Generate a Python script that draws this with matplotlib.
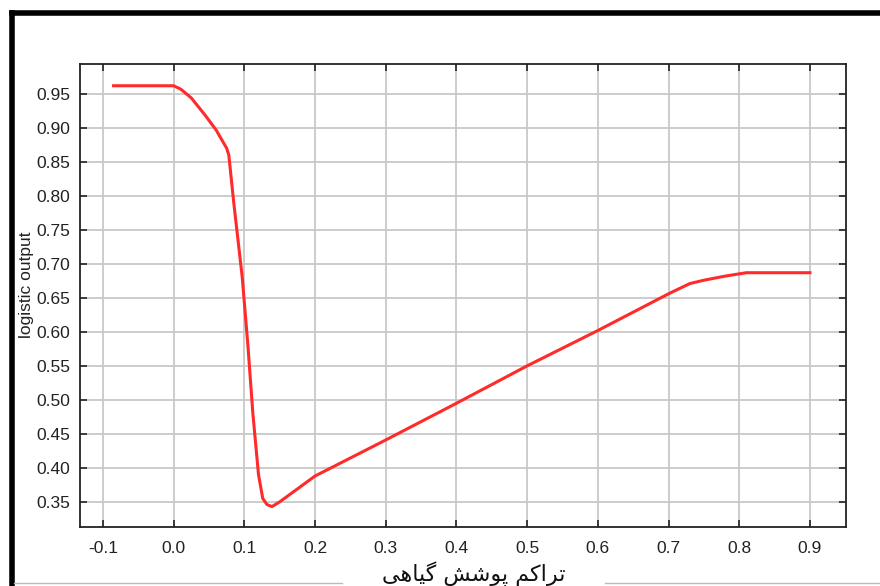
import matplotlib.pyplot as plt
from matplotlib.lines import Line2D

plt.rcParams['font.family'] = ['Liberation Sans', 'DejaVu Sans']

# response curve
x_vals = [-0.085, -0.04, 0.0, 0.01, 0.025, 0.045, 0.06, 0.075, 0.078, 0.085,
          0.097, 0.105, 0.112, 0.12, 0.126, 0.132, 0.139, 0.15, 0.2, 0.3,
          0.4, 0.5, 0.6, 0.7, 0.73, 0.75, 0.78, 0.81, 0.85, 0.9]
y_vals = [0.962, 0.962, 0.962, 0.957, 0.944, 0.918, 0.897, 0.870, 0.860, 0.790,
          0.680, 0.580, 0.480, 0.390, 0.355, 0.346, 0.343, 0.350, 0.388, 0.441,
          0.495, 0.550, 0.602, 0.656, 0.671, 0.676, 0.682, 0.687, 0.687, 0.687]

x_ticks = [-0.1, 0.0, 0.1, 0.2, 0.3, 0.4, 0.5, 0.6, 0.7, 0.8, 0.9]
y_ticks = [0.35, 0.40, 0.45, 0.50, 0.55, 0.60, 0.65, 0.70, 0.75, 0.80, 0.85, 0.90, 0.95]

y_label = 'logistic output'
# "تراکم پوشش گیاهی" in presentation forms, visual order
x_label = '\uFBFD\uFEEB\uFE8E\uFBFF\uFB94 \uFEB6\uFEB7\uFEEE\uFB58 \uFEE2\uFB90\uFE8D\uFEAE\uFE97'

fig = plt.figure(figsize=(8.8, 5.86), dpi=100)
ax = fig.add_axes([80 / 880, 59 / 586, 766 / 880, 463 / 586])

ax.plot(x_vals, y_vals, color='#ff2a2a', lw=2.2, solid_joinstyle='round')

ax.set_xlim(-0.1325, 0.951)
ax.set_ylim(0.313, 0.994)
ax.set_xticks(x_ticks)
ax.set_yticks(y_ticks)
ax.set_xticklabels(['%.1f' % v for v in x_ticks])
ax.set_yticklabels(['%.2f' % v for v in y_ticks])
ax.tick_params(direction='in', top=True, right=True, length=5, width=1.2,
               labelsize=12.5, colors='#222222')
ax.tick_params(axis='x', pad=10)
ax.tick_params(axis='y', pad=7)
ax.grid(True, color='#c8c8c8', lw=1.3)
ax.set_axisbelow(True)
for s in ax.spines.values():
    s.set_color('#222222')
    s.set_linewidth(1.3)

fig.text(26 / 880, 1 - 285 / 586, y_label, rotation=90, fontsize=12.5,
         ha='center', va='center', color='#222222')
fig.text(474 / 880, 1 - 574 / 586, x_label, fontsize=16,
         family=['DejaVu Sans'], ha='center', va='center', color='#111111')

# screenshot frame
fig.add_artist(Line2D([12 / 880, 1], [1 - 13 / 586] * 2, color='black', lw=4))
fig.add_artist(Line2D([12 / 880] * 2, [0, 1 - 13 / 586], color='black', lw=4))
fig.add_artist(Line2D([14 / 880, 342 / 880], [1 - 583 / 586] * 2, color='#bbbbbb', lw=1))
fig.add_artist(Line2D([605 / 880, 1], [1 - 583 / 586] * 2, color='#bbbbbb', lw=1))

fig.savefig('out.png', dpi=100)
